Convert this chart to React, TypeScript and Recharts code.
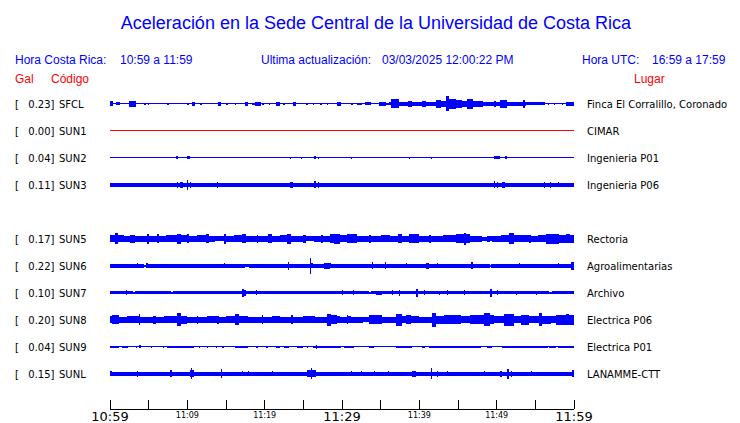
import { ComposedChart, Area, XAxis, YAxis } from "recharts"

const BLUE = "#0000ff"
const RED = "#ff0000"

const TITLE = "Aceleración en la Sede Central de la Universidad de Costa Rica"
const LOCAL_LABEL = "Hora Costa Rica:"
const LOCAL_SPAN = "10:59 a 11:59"
const UPDATED_LABEL = "Ultima actualización:"
const UPDATED_AT = "03/03/2025 12:00:22 PM"
const UTC_LABEL = "Hora UTC:"
const UTC_SPAN = "16:59 a 17:59"

const CODES = ["SFCL", "SUN1", "SUN2", "SUN3", "SUN5", "SUN6", "SUN7", "SUN8", "SUN9", "SUNL"]
const GALS = ["0.23", "0.00", "0.04", "0.11", "0.17", "0.22", "0.10", "0.20", "0.04", "0.15"]
const PLACES = [
  "Finca El Corralillo, Coronado",
  "CIMAR",
  "Ingenieria P01",
  "Ingenieria P06",
  "Rectoria",
  "Agroalimentarias",
  "Archivo",
  "Electrica P06",
  "Electrica P01",
  "LANAMME-CTT",
]
// row slot of each station (slot 4 is empty)
const ROWS = [0, 1, 2, 3, 5, 6, 7, 8, 9, 10]

const MINUTE_TICKS = [0, 5, 10, 15, 20, 25, 30, 35, 40, 45, 50, 55, 60]
const TICK_LABELS = ["10:59", "", "11:09", "", "11:19", "", "11:29", "", "11:39", "", "11:49", "", "11:59"]

// envelope half-amplitude per station: [minute, amp], held until the next entry
const SFCL = [
  [0, 2.5], [0.4, 0.5], [0.8, 1.5], [1.3, 0.5], [2.5, 3], [3.3, 0.5], [4.4, 1], [4.6, 0.5], [4.9, 1], [5.0, 0.5],
  [7.4, 1], [7.6, 0.5], [10.0, 1], [10.2, 0.5], [10.6, 2], [11.0, 0.5], [11.7, 1], [11.9, 0.5], [14.0, 2], [14.4, 0.5],
  [15.0, 1], [15.2, 0.5], [16.1, 1], [16.3, 0.5], [17.4, 2], [17.8, 0.5], [18.4, 1], [18.8, 2], [19.5, 0.5],
  [19.7, 1], [19.9, 0.5], [20.5, 1], [20.7, 0.5], [21.5, 2], [22.0, 0.5], [22.4, 1], [22.6, 0.5], [23.6, 2], [24.0, 0.5],
  [25.4, 1], [25.6, 0.5], [26.2, 1], [26.4, 0.5], [27.2, 1], [27.4, 0.5], [28.0, 1], [28.2, 0.5], [29.4, 2], [29.9, 0.5],
  [31.2, 1], [31.4, 0.5], [31.9, 1], [32.6, 0.5], [33.0, 1.5], [33.8, 0.5], [34.8, 2], [35.7, 1], [36.1, 1.5],
  [36.4, 4.5], [37.4, 2], [38.5, 3], [39.1, 2], [40.4, 3], [40.9, 2], [42.2, 4], [42.8, 3], [43.5, 7.5], [43.9, 5],
  [44.8, 4], [45.5, 3], [46.2, 5], [46.9, 3], [48.2, 2], [49.6, 3], [49.9, 2], [50.4, 4], [51.3, 2], [53.4, 4],
  [53.6, 2], [53.8, 1.5], [56.2, 0.5], [56.6, 1], [56.8, 0.5], [57.4, 1], [57.6, 0.5], [58.4, 1], [58.6, 0.5], [59.0, 2],
]
const SUN1 = [[0, 0.5]]
const SUN2 = [
  [0, 0.5], [8.5, 1.5], [8.8, 0.5], [9.0, 1], [9.1, 0.5], [9.9, 1.5], [10.4, 0.5], [23.3, 1], [23.4, 0.5],
  [24.7, 1], [24.8, 0.5], [26.4, 1.5], [26.7, 0.5], [26.9, 1], [27.0, 0.5], [31.2, 1], [31.3, 0.5], [38.7, 1],
  [38.8, 0.5], [41.5, 1], [41.6, 0.5], [49.7, 1.5], [50.0, 0.5], [50.1, 1.5], [50.4, 0.5], [51.1, 1.5], [51.3, 0.5],
  [56.2, 1], [56.3, 0.5],
]
const SUN3 = [
  [0, 2], [8.7, 3], [8.8, 2], [9.1, 3], [9.4, 2], [9.9, 5], [10.1, 2], [10.4, 3], [10.5, 2], [13.9, 3], [14.0, 2],
  [23.3, 3], [23.6, 2], [26.4, 3.5], [26.6, 2], [26.9, 3], [27.0, 2], [29.7, 3], [29.8, 2], [43.0, 3], [43.1, 2],
  [49.6, 3.5], [49.8, 2], [50.1, 3], [50.2, 2], [50.7, 3], [51.1, 2], [54.4, 3], [54.5, 2], [56.1, 3], [56.2, 2],
  [56.9, 3], [57.0, 2], [57.9, 2.5], [58.0, 2],
]
const SUN5 = [
  [0, 3.5], [0.6, 5.5], [1.0, 3.5], [1.8, 3], [2.6, 4], [3.2, 3], [4.8, 5], [5.0, 3], [6.1, 4.5], [6.3, 3],
  [7.2, 3.5], [8.6, 5], [9.2, 3.5], [10.0, 4.5], [10.2, 3], [11.2, 3.5], [12.4, 4.5], [12.8, 3], [13.6, 2.5],
  [14.8, 5], [15.0, 3], [16.0, 3.5], [17.1, 4.5], [17.6, 3], [19.0, 4], [19.2, 3], [20.4, 4.5], [21.0, 3],
  [22.0, 3.5], [22.9, 5], [23.4, 3], [24.9, 4], [25.4, 2.5], [26.4, 3], [27.3, 4], [27.5, 3], [28.4, 4.5],
  [29.0, 5], [29.7, 3.5], [30.6, 4.5], [31.9, 3], [33.5, 4], [33.7, 3], [35.0, 3.5], [36.2, 3], [37.2, 4.5],
  [37.7, 3], [38.7, 4.5], [40.0, 3], [41.3, 4], [41.5, 3], [43.0, 3.5], [44.8, 4.5], [45.8, 6], [46.0, 4.5],
  [46.5, 3], [48.1, 2], [48.7, 3], [49.1, 2.5], [49.4, 3], [50.5, 3.5], [51.6, 5.5], [52.3, 3.5], [54.2, 4],
  [54.4, 3], [55.4, 3.5], [56.4, 5], [58.1, 4], [59.0, 4.5], [59.5, 4],
]
const SUN6 = [
  [0, 2], [3.5, 2.5], [3.6, 2], [4.4, 1], [4.7, 2.5], [4.9, 2], [9.0, 2.5], [9.1, 2], [11.2, 2.5], [11.3, 2],
  [14.8, 2.5], [14.9, 2], [17.5, 1.5], [18.0, 2], [22.2, 2.5], [22.3, 2], [23.0, 4], [23.2, 2], [25.8, 8],
  [26.0, 2.5], [26.2, 2], [27.7, 3], [28.4, 2.5], [28.6, 2], [29.7, 2.5], [29.8, 2], [33.9, 3.5], [34.0, 2],
  [35.5, 3.5], [35.7, 2], [38.3, 2.5], [38.4, 2], [40.9, 3], [41.3, 2], [42.3, 2.5], [42.4, 2], [46.7, 3.5],
  [46.9, 2], [49.1, 1], [49.3, 2], [52.9, 2.5], [53.0, 2], [57.9, 2.5], [58.0, 2], [59.6, 4],
]
const SUN7 = [
  [0, 1.5], [2.1, 2.5], [2.2, 1.5], [3.0, 1], [3.2, 1.5], [6.8, 2], [6.9, 1.5], [7.9, 1], [8.1, 1.5], [17.1, 4],
  [17.3, 3], [17.6, 1.5], [18.9, 2.5], [19.0, 1.5], [22.2, 2], [22.3, 1.5], [30.0, 2.5], [30.1, 1.5], [31.4, 2.5],
  [31.5, 1.5], [33.5, 1], [33.7, 1.5], [34.4, 2], [35.2, 1.5], [36.5, 2.5], [36.6, 1.5], [37.4, 3], [37.5, 1.5],
  [39.6, 4], [39.8, 1.5], [40.6, 2.5], [40.7, 1.5], [42.6, 2], [42.7, 1.5], [43.6, 2.5], [43.7, 1.5], [45.8, 2.5],
  [45.9, 1.5], [49.2, 4], [49.4, 1.5], [50.1, 2.5], [50.2, 1.5], [52.5, 2], [52.6, 1.5], [55.1, 2], [55.2, 1.5],
  [56.8, 1], [57.2, 1.5],
]
const SUN8 = [
  [0, 3.5], [0.3, 4.5], [1.2, 3], [2.2, 3.5], [3.7, 5.5], [3.9, 3], [5.6, 4], [5.9, 3], [7.0, 3.5], [8.6, 6.5],
  [9.2, 4], [10.0, 3], [11.2, 4], [11.4, 3], [12.6, 3.5], [13.9, 4], [14.1, 3], [15.0, 3.5], [16.1, 5.5],
  [16.7, 3.5], [17.8, 3], [19.6, 4.5], [19.8, 3], [21.0, 3.5], [22.0, 3], [23.4, 4.5], [23.6, 3], [25.0, 3.5],
  [26.5, 3], [28.0, 6], [28.6, 4.5], [29.3, 3.5], [29.7, 3], [30.6, 4.5], [30.8, 3.5], [31.2, 3], [32.7, 2.5],
  [33.5, 4.5], [35.2, 3], [37.0, 6], [37.7, 3.5], [38.3, 4.5], [38.9, 3.5], [40.0, 3], [41.6, 7], [42.2, 4],
  [43.2, 4.5], [45.4, 3.5], [46.5, 4.5], [48.3, 6.5], [49.1, 4.5], [49.7, 3.5], [51.0, 6], [52.3, 3.5], [53.2, 5],
  [54.2, 3.5], [55.5, 6.5], [55.9, 4], [57.0, 3.5], [57.7, 5], [59.0, 5.5], [59.4, 5],
]
const SUN9 = [
  [0, 1], [0.2, 0.5], [0.3, 1], [1.2, 0.5], [1.5, 1], [2.3, 0.5], [3.4, 1], [3.5, 0.5], [3.8, 1.5], [4.0, 0.5],
  [4.6, 1], [4.7, 0.5], [5.3, 1], [5.4, 0.5], [6.9, 1], [7.0, 0.5], [7.4, 1], [10.9, 0.5], [11.5, 1], [11.6, 0.5],
  [12.6, 1], [12.7, 0.5], [13.7, 1], [13.8, 0.5], [14.5, 1], [14.8, 0.5], [15.6, 1], [15.7, 0.5], [16.1, 1],
  [17.8, 0.5], [18.9, 1], [19.1, 0.5], [20.2, 1], [20.4, 0.5], [21.5, 1], [22.0, 0.5], [22.5, 1], [23.2, 0.5],
  [24.2, 1], [24.9, 0.5], [25.5, 1], [25.6, 0.5], [26.2, 1], [26.6, 2], [26.8, 1], [29.9, 0.5], [30.3, 1],
  [31.6, 0.5], [33.5, 1], [34.2, 0.5], [37.0, 1], [39.0, 0.5], [40.3, 1], [40.7, 0.5], [41.3, 1], [48.0, 0.5],
  [48.7, 1], [49.4, 0.5], [50.7, 1], [56.6, 0.5], [56.8, 1], [57.7, 0.5], [57.9, 1],
]
const SUNL = [
  [0, 2.5], [0.3, 2], [1.1, 2.5], [1.2, 2], [3.5, 3], [3.6, 2], [5.5, 2.5], [5.6, 2], [7.8, 3.5], [8.0, 2],
  [8.6, 2.5], [8.7, 2], [9.9, 2.5], [10.0, 2], [10.3, 3.5], [10.5, 5.5], [10.6, 3.5], [10.8, 2], [14.4, 4.5],
  [14.5, 2], [17.1, 2.5], [17.2, 2], [17.9, 2.5], [18.0, 2], [21.0, 2.5], [21.1, 2], [25.5, 3.5], [26.0, 5.5],
  [26.1, 3.5], [26.6, 2], [29.3, 2.5], [29.4, 2], [31.2, 2.5], [31.3, 2], [32.5, 2.5], [32.6, 2], [34.2, 2.5],
  [34.3, 2], [36.0, 2.5], [36.1, 2], [39.1, 3], [39.6, 2], [40.8, 3], [40.9, 2], [41.5, 5.5], [41.7, 2], [42.3, 3],
  [42.4, 2], [43.6, 2.5], [43.7, 2], [46.5, 2.5], [46.6, 2], [48.4, 2.5], [48.5, 2], [50.4, 3], [50.7, 2],
  [51.4, 5], [51.6, 2], [51.9, 3], [52.0, 2], [54.5, 2.5], [54.6, 2], [59.7, 3.5],
]
const TRACES = [SFCL, SUN1, SUN2, SUN3, SUN5, SUN6, SUN7, SUN8, SUN9, SUNL]

const W = 740
const H = 423
const TOP = 89
const ROW_H = 27
const rowCenter = (row: number) => ROW_H / 2 + 1 + ROW_H * row
const ROW_VALUES = ROWS.map(rowCenter)

const series = TRACES.map((trace, i) => {
  const c = ROW_VALUES[i]
  const pts = [...trace, [60, trace[trace.length - 1][1]]]
  return pts.map(([t, a]) => ({ t, band: [c - a, c + a] }))
})

const label = { fontFamily: "DejaVu Sans", fontSize: 10, fill: "#000" }

function StationTick({ y, payload }: any) {
  const i = ROW_VALUES.indexOf(payload.value)
  if (i < 0) return null
  return (
    <g>
      <text x={15} y={y + 4} {...label}>[</text>
      <text x={54.5} y={y + 4} textAnchor="end" {...label}>{GALS[i]}]</text>
      <text x={59} y={y + 4} {...label}>{CODES[i]}</text>
    </g>
  )
}

function PlaceTick({ y, payload }: any) {
  const i = ROW_VALUES.indexOf(payload.value)
  if (i < 0) return null
  return (
    <text x={587} y={y + 4} {...label}>{PLACES[i]}</text>
  )
}

function TimeTick({ x, y, payload }: any) {
  const i = MINUTE_TICKS.indexOf(payload.value)
  const text = TICK_LABELS[i]
  const big = payload.value % 30 === 0
  return (
    <g>
      <line x1={x} x2={x} y1={y} y2={y - 9} stroke="#000" shapeRendering="crispEdges" />
      {text && (
        <text x={x} y={y + (big ? 12 : 9)} textAnchor="middle" fontFamily="DejaVu Sans" fontSize={big ? 13 : 8} fill="#000">
          {text}
        </text>
      )}
    </g>
  )
}

function Header() {
  const head = { fontFamily: "Liberation Sans, Arial, sans-serif", fontSize: 12, fill: BLUE }
  const red = { ...head, fill: RED }
  return (
    <svg width={W} height={TOP} style={{ position: "absolute", left: 0, top: 0 }}>
      <text x={376} y={29} textAnchor="middle" fontFamily="Liberation Sans, Arial, sans-serif" fontSize={18} fill={BLUE}>
        {TITLE}
      </text>
      <text x={15} y={64} {...head}>{LOCAL_LABEL}</text>
      <text x={120} y={64} {...head}>{LOCAL_SPAN}</text>
      <text x={261} y={64} {...head}>{UPDATED_LABEL}</text>
      <text x={382} y={64} {...head}>{UPDATED_AT}</text>
      <text x={582} y={64} {...head}>{UTC_LABEL}</text>
      <text x={652} y={64} {...head}>{UTC_SPAN}</text>
      <text x={15} y={83} {...red}>Gal</text>
      <text x={51} y={83} {...red}>Código</text>
      <text x={634} y={83} {...red}>Lugar</text>
    </svg>
  )
}

export default function App() {
  return (
    <div style={{ position: "absolute", left: 0, top: 0, width: W, height: H, background: "#fff" }}>
      <style>{`.recharts-area-area { shape-rendering: crispEdges; } .recharts-cartesian-axis-line { shape-rendering: crispEdges; }`}</style>
      <ComposedChart width={W} height={H} margin={{ top: TOP, right: 0, bottom: 0, left: 0 }}>
        <XAxis
          xAxisId="x"
          dataKey="t"
          type="number"
          domain={[0, 60]}
          ticks={MINUTE_TICKS}
          interval={0}
          height={14}
          tickSize={0}
          tickMargin={0}
          tickLine={false}
          axisLine={{ stroke: "#000" }}
          tick={<TimeTick />}
          allowDataOverflow
        />
        <YAxis
          yAxisId="l"
          type="number"
          domain={[0, 320]}
          reversed
          width={110}
          ticks={ROW_VALUES}
          interval={0}
          axisLine={false}
          tickLine={false}
          tick={<StationTick />}
          allowDataOverflow
        />
        <YAxis
          yAxisId="r"
          orientation="right"
          type="number"
          domain={[0, 320]}
          reversed
          width={166}
          ticks={ROW_VALUES}
          interval={0}
          axisLine={false}
          tickLine={false}
          tick={<PlaceTick />}
          allowDataOverflow
        />
        {series.map((d, i) => (
          <Area
            key={CODES[i]}
            data={d}
            dataKey="band"
            xAxisId="x"
            yAxisId="l"
            type="stepAfter"
            stroke="none"
            fill={CODES[i] === "SUN1" ? RED : BLUE}
            fillOpacity={1}
            dot={false}
            activeDot={false}
            isAnimationActive={false}
          />
        ))}
      </ComposedChart>
      <Header />
    </div>
  )
}
